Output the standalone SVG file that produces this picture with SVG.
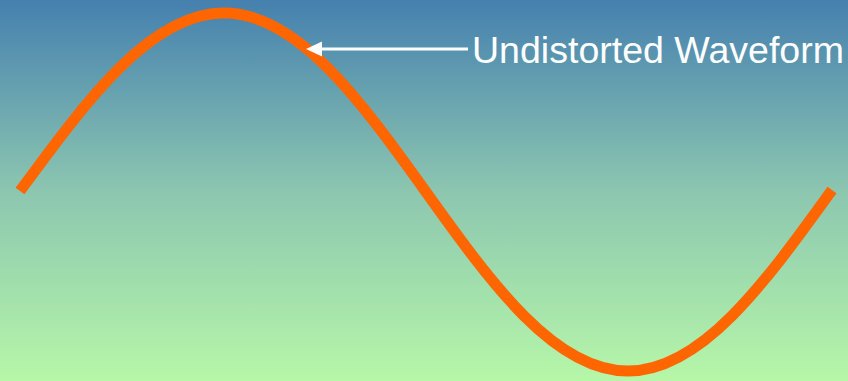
<svg xmlns="http://www.w3.org/2000/svg" width="848" height="381" viewBox="0 0 848 381">
  <defs>
    <linearGradient id="bg" x1="0" y1="0" x2="0" y2="1">
      <stop offset="0" stop-color="#4580AF"/>
      <stop offset="0.5" stop-color="#8CC6B0"/>
      <stop offset="1" stop-color="#B6F7A8"/>
    </linearGradient>
    <style>
      .wave { fill: none; stroke: #FF6600; stroke-width: 11; stroke-linecap: butt; }
      .lbl { font-family: "Liberation Sans", Arial, sans-serif; fill: #FFFFFF; }
      .pointer { stroke: #FFFFFF; stroke-width: 3; fill: none; }
    </style>
  </defs>
  <rect x="0" y="0" width="848" height="381" fill="url(#bg)"/>
  <g id="waveform">
    <path class="wave" d="M20,191 C87.9,98.8 150.9,13 224,13 C297.1,13 360.1,99.8 426,192 C491.9,284.2 554.9,371 628,371 C701.1,371 764.1,284.2 832,190"/>
  </g>
  <g id="connectors">
    <line class="pointer" x1="468" y1="49" x2="320" y2="49"/>
    <polygon points="306,49 322,41.5 322,56.5" fill="#FFFFFF"/>
  </g>
  <g id="label">
    <text class="lbl" x="472" y="63" font-size="36.5" textLength="372" lengthAdjust="spacingAndGlyphs">Undistorted Waveform</text>
  </g>
</svg>
